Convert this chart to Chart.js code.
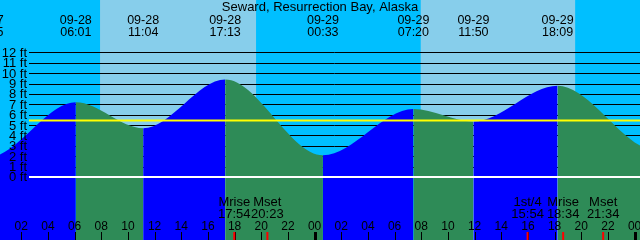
<!DOCTYPE html>
<html>
<head>
<meta charset="utf-8">
<script src="https://cdn.jsdelivr.net/npm/chart.js@4"></script>
<style>
  body { margin: 0; }
  canvas { display: block; }
</style>
</head>
<body>
<canvas id="tide" width="640" height="240"></canvas>
<script>
const title = 'Seward, Resurrection Bay, Alaska';

// high / low tide events and heights (ft)
const tideTimes = ['09-27 17:05', '09-27 23:25', '09-28 06:01', '09-28 11:04', '09-28 17:13', '09-29 00:33',
                   '09-29 07:20', '09-29 11:50', '09-29 18:09', '09-30 01:40', '09-30 08:20'];
const tideHeights = [9.0, 1.9, 7.2, 4.7, 9.4, 2.1, 6.55, 5.35, 8.8, 2.5, 6.3];

const sunriseTimes = ['09-28 07:50', '09-29 07:53'];
const sunsetTimes = ['09-28 19:32', '09-29 19:28'];

const moonNames = ['Mrise', 'Mset', '1st/4', 'Mrise', 'Mset'];
const moonTimes = ['09-28 17:54', '09-28 20:23', '09-29 15:54', '09-29 18:34', '09-29 21:34'];

const feetTicks = [0, 1, 2, 3, 4, 5, 6, 7, 8, 9, 10, 11, 12];
const meanLevel = 5.44;
const nowTime = '09-28 01:04';
const nowHeight = 2.2;

const NIGHT = '#00BFFF';
const DAY = '#87CEEB';
const RISING = '#0000FF';
const FALLING = '#2E8B57';
const FONT = '"Liberation Sans", Arial, sans-serif';

// hours since 09-28 00:00
function toHours(s) {
    const [md, hm] = s.split(' ');
    const d = Number(md.split('-')[1]);
    const [H, M] = hm.split(':').map(Number);
    return (d - 28) * 24 + H + M / 60;
}

const tidePoints = tideTimes.map((t, i) => ({ x: toHours(t), y: tideHeights[i] }));

const tideDecor = {
    id: 'tideDecor',
    beforeDatasetsDraw(chart) {
        const { ctx, chartArea: a, scales: { x, y } } = chart;
        ctx.save();
        ctx.fillStyle = NIGHT;
        ctx.fillRect(a.left, a.top, a.width, a.height);
        ctx.fillStyle = DAY;
        sunriseTimes.forEach((t, i) => {
            const x0 = x.getPixelForValue(toHours(t));
            const x1 = x.getPixelForValue(toHours(sunsetTimes[i]));
            ctx.fillRect(x0, a.top, x1 - x0, a.height);
        });
        ctx.strokeStyle = '#000';
        ctx.lineWidth = 1;
        feetTicks.forEach(f => {
            if (f === 0) return;
            const py = Math.round(y.getPixelForValue(f)) + 0.5;
            ctx.beginPath();
            ctx.moveTo(29, py);
            ctx.lineTo(a.right, py);
            ctx.stroke();
        });
        ctx.restore();
    },
    afterDatasetsDraw(chart) {
        const { ctx, chartArea: a, scales: { x, y } } = chart;
        ctx.save();

        // mean level and datum
        ctx.lineWidth = 2;
        ctx.strokeStyle = '#FFFF00';
        let py = y.getPixelForValue(meanLevel);
        ctx.beginPath(); ctx.moveTo(29, py); ctx.lineTo(a.right, py); ctx.stroke();
        ctx.strokeStyle = '#FFFFFF';
        py = y.getPixelForValue(0);
        ctx.beginPath(); ctx.moveTo(29, py); ctx.lineTo(a.right, py); ctx.stroke();

        ctx.fillStyle = '#000';

        // ft labels
        ctx.font = '13px ' + FONT;
        ctx.textAlign = 'right';
        ctx.textBaseline = 'alphabetic';
        feetTicks.forEach(f => {
            ctx.fillText(f + ' ft', 27, y.getPixelForValue(f) + 4.5);
        });

        // title
        ctx.textAlign = 'center';
        ctx.font = '13px ' + FONT;
        ctx.fillText(title, (a.left + a.right) / 2, 11);

        // tide event labels
        ctx.font = '12.5px ' + FONT;
        tideTimes.forEach(t => {
            const px = x.getPixelForValue(toHours(t));
            const [md, hm] = t.split(' ');
            ctx.fillText(md, px, 24);
            ctx.fillText(hm, px, 36);
        });

        // hour ticks
        ctx.font = '12px ' + FONT;
        for (let h = 2; h <= 48; h += 2) {
            const px = x.getPixelForValue(h) - 1;
            ctx.fillText(String(h % 24).padStart(2, '0'), px, 230);
            ctx.lineWidth = h % 24 === 0 ? 3 : 1;
            ctx.strokeStyle = '#000';
            ctx.beginPath();
            ctx.moveTo(Math.round(px) + 0.5, 232);
            ctx.lineTo(Math.round(px) + 0.5, 240);
            ctx.stroke();
        }

        // moon events
        ctx.font = '13px ' + FONT;
        moonTimes.forEach((t, i) => {
            const px = x.getPixelForValue(toHours(t));
            ctx.fillText(moonNames[i], px, 206);
            ctx.fillText(t.split(' ')[1], px, 218);
            ctx.strokeStyle = '#FF0000';
            ctx.lineWidth = 2;
            ctx.beginPath();
            ctx.moveTo(px, 232);
            ctx.lineTo(px, 240);
            ctx.stroke();
        });

        ctx.restore();
    }
};

new Chart(document.getElementById('tide'), {
    type: 'line',
    data: {
        datasets: [{
            data: tidePoints,
            fill: 'start',
            borderWidth: 0,
            borderColor: 'rgba(0,0,0,0)',
            pointRadius: 0,
            cubicInterpolationMode: 'monotone',
            backgroundColor: RISING,
            segment: {
                backgroundColor: c => c.p1.parsed.y > c.p0.parsed.y ? RISING : FALLING
            }
        }, {
            data: [{ x: toHours(nowTime), y: nowHeight }],
            showLine: false,
            pointStyle: 'cross',
            pointRadius: 5,
            pointBorderColor: '#000',
            pointBorderWidth: 1,
            fill: false
        }]
    },
    options: {
        responsive: false,
        animation: false,
        devicePixelRatio: 1,
        layout: { padding: 0, autoPadding: false },
        plugins: {
            legend: { display: false },
            tooltip: { enabled: false }
        },
        scales: {
            x: { type: 'linear', min: 0.33, max: 48.33, display: false },
            y: { min: -6.07, max: 17.05, display: false }
        }
    },
    plugins: [tideDecor]
});
</script>
</body>
</html>
